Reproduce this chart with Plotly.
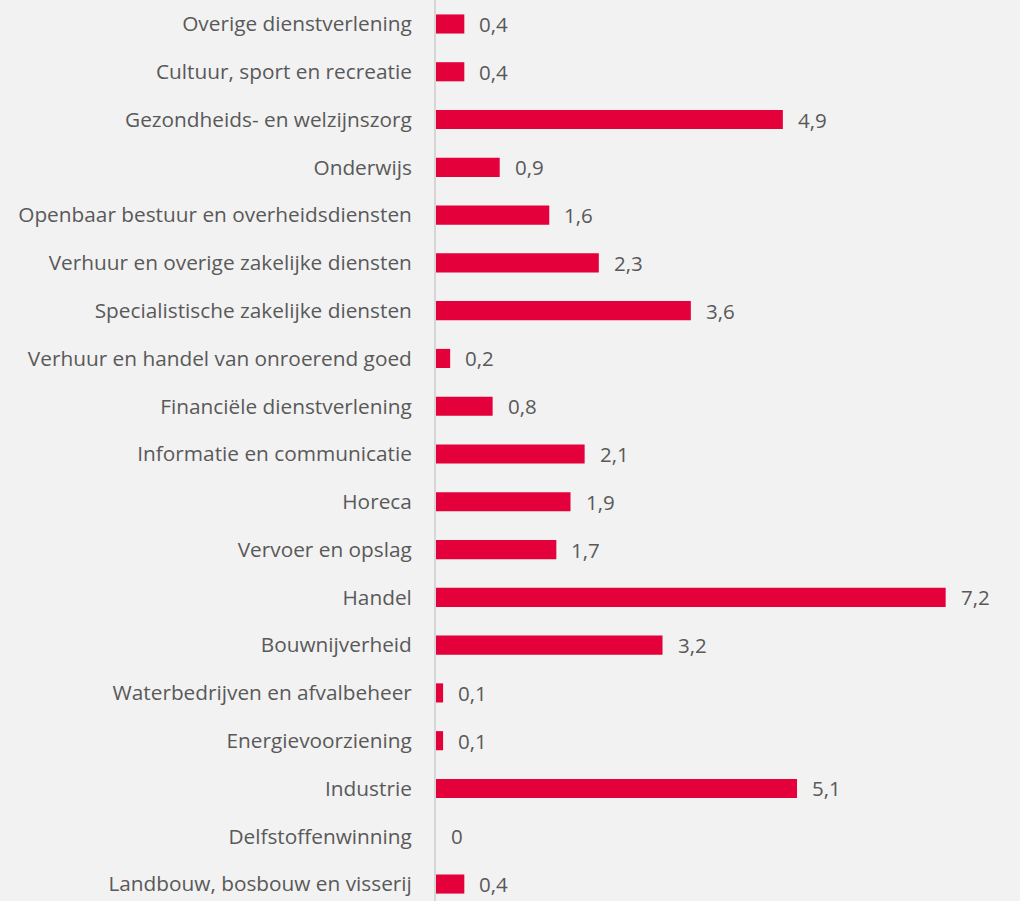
import plotly.graph_objects as go

# bottom-to-top order
categories = [
    "Landbouw, bosbouw en visserij",
    "Delfstoffenwinning",
    "Industrie",
    "Energievoorziening",
    "Waterbedrijven en afvalbeheer",
    "Bouwnijverheid",
    "Handel",
    "Vervoer en opslag",
    "Horeca",
    "Informatie en communicatie",
    "Financiële dienstverlening",
    "Verhuur en handel van onroerend goed",
    "Specialistische zakelijke diensten",
    "Verhuur en overige zakelijke diensten",
    "Openbaar bestuur en overheidsdiensten",
    "Onderwijs",
    "Gezondheids- en welzijnszorg",
    "Cultuur, sport en recreatie",
    "Overige dienstverlening",
]
values = [0.4, 0, 5.1, 0.1, 0.1, 3.2, 7.2, 1.7, 1.9, 2.1, 0.8, 0.2, 3.6, 2.3, 1.6, 0.9, 4.9, 0.4, 0.4]
labels = ["0" if v == 0 else f"{v:.1f}".replace(".", ",") for v in values]

FONT = "Open Sans, Liberation Sans, sans-serif"
GRAY = "#595959"

fig = go.Figure(
    go.Bar(
        x=values,
        y=categories,
        orientation="h",
        marker=dict(color="#E4003A", line=dict(width=0)),
        width=0.4,
        hoverinfo="skip",
    )
)

for c, v, t in zip(categories, values, labels):
    fig.add_annotation(
        x=v, y=c, text=t, showarrow=False, xanchor="left", yanchor="middle",
        xshift=13, font=dict(family=FONT, size=20.5, color=GRAY),
    )

fig.update_layout(
    width=1020,
    height=901,
    margin=dict(l=436, r=0, t=0, b=0),
    paper_bgcolor="#F2F2F2",
    plot_bgcolor="#F2F2F2",
    showlegend=False,
    xaxis=dict(range=[0, 8.25], visible=False, fixedrange=True),
    yaxis=dict(
        type="category",
        range=[-0.355, 18.502],
        showline=True,
        linecolor="#D6D6D6",
        linewidth=2,
        showgrid=False,
        zeroline=False,
        ticks="",
        ticklabelstandoff=18,
        tickfont=dict(family=FONT, size=20.8, color=GRAY),
        fixedrange=True,
    ),
)

fig.write_html(
    "out.html",
    config={"displayModeBar": False},
    post_script="document.body.style.margin='0';document.body.style.background='#F2F2F2';",
)
